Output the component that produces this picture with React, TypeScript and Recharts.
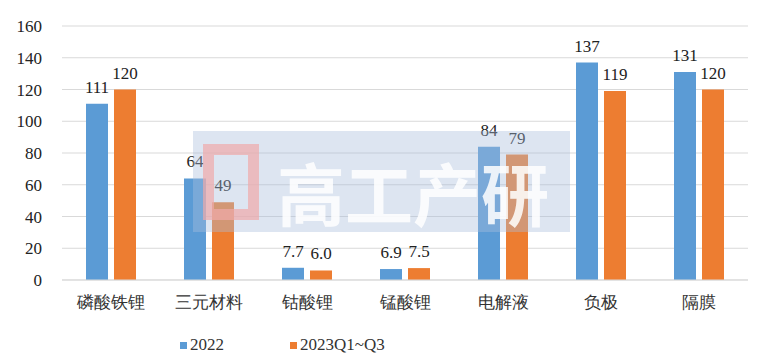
import { BarChart, Bar, XAxis, YAxis, CartesianGrid, Legend, LabelList } from 'recharts'

const categories = ['磷酸铁锂', '三元材料', '钴酸锂', '锰酸锂', '电解液', '负极', '隔膜']
const values2022 = [111, 64, 7.7, 6.9, 84, 137, 131]
const values2023 = [120, 49, 6.0, 7.5, 79, 119, 120]
const labels2022 = ['111', '64', '7.7', '6.9', '84', '137', '131']
const labels2023 = ['120', '49', '6.0', '7.5', '79', '119', '120']
const yTicks = [0, 20, 40, 60, 80, 100, 120, 140, 160]

const BLUE = '#5b9bd5'
const ORANGE = '#ed7d31'
const FONT = "'Liberation Serif', 'DejaVu Serif', serif"

const data = categories.map((name, i) => ({
  name,
  y2022: values2022[i],
  y2023: values2023[i],
  l2022: labels2022[i],
  l2023: labels2023[i],
}))

function LegendContent() {
  const items = [
    { label: '2022', color: BLUE },
    { label: '2023Q1~Q3', color: ORANGE },
  ]
  return (
    <div style={{ display: 'flex', fontFamily: FONT, fontSize: 17, color: '#333', height: 24, alignItems: 'center' }}>
      {items.map((it, i) => (
        <div key={it.label} style={{ display: 'flex', alignItems: 'center', width: i === 0 ? 110 : 'auto' }}>
          <span style={{ width: 7, height: 7, background: it.color, display: 'inline-block', marginRight: 3 }} />
          <span>{it.label}</span>
        </div>
      ))}
    </div>
  )
}

export default function App() {
  return (
    <div style={{ position: 'absolute', left: 0, top: 0, width: 766, height: 363, background: '#fff', fontFamily: FONT }}>
      <BarChart
        width={766}
        height={363}
        data={data}
        margin={{ top: 26, right: 18, bottom: 0, left: 0 }}
        barSize={22}
        barGap={6}
      >
        <CartesianGrid vertical={false} stroke="#d9d9d9" />
        <XAxis
          dataKey="name"
          axisLine={{ stroke: '#d9d9d9' }}
          tickLine={false}
          height={59}
          tickMargin={10}
          tick={{ fontSize: 17, fill: '#333', fontFamily: FONT }}
        />
        <YAxis
          width={62}
          domain={[0, 160]}
          ticks={yTicks}
          axisLine={false}
          tickLine={false}
          tickSize={0}
          tickMargin={20}
          tick={{ fontSize: 17, fill: '#222', fontFamily: FONT }}
        />
        <Legend verticalAlign="bottom" align="left" wrapperStyle={{ left: 180, bottom: 6, height: 24 }} content={<LegendContent />} />
        <Bar dataKey="y2022" fill={BLUE} isAnimationActive={false}>
          <LabelList dataKey="l2022" position="top" offset={11} fontFamily={FONT} fontSize={17} fill="#222" />
        </Bar>
        <Bar dataKey="y2023" fill={ORANGE} isAnimationActive={false}>
          <LabelList dataKey="l2023" position="top" offset={11} fontFamily={FONT} fontSize={17} fill="#222" />
        </Bar>
      </BarChart>
      {/* watermark: tinted band, logo square, then the text on its own */}
      <div
        style={{
          position: 'absolute',
          left: 193,
          top: 131,
          width: 377,
          height: 101,
          background: 'rgba(170, 190, 220, 0.4)',
          pointerEvents: 'none',
        }}
      />
      <div
        style={{
          position: 'absolute',
          left: 203,
          top: 144,
          width: 56,
          height: 76,
          border: '11px solid rgba(240, 170, 170, 0.7)',
          boxSizing: 'border-box',
          pointerEvents: 'none',
        }}
      />
      <div
        style={{
          position: 'absolute',
          left: 277,
          top: 157,
          height: 70,
          color: 'rgba(255,255,255,0.85)',
          fontFamily: "'Noto Sans CJK SC', sans-serif",
          fontWeight: 700,
          fontSize: 68,
          lineHeight: '70px',
          whiteSpace: 'nowrap',
          pointerEvents: 'none',
        }}
      >
        高工产研
      </div>
    </div>
  )
}
